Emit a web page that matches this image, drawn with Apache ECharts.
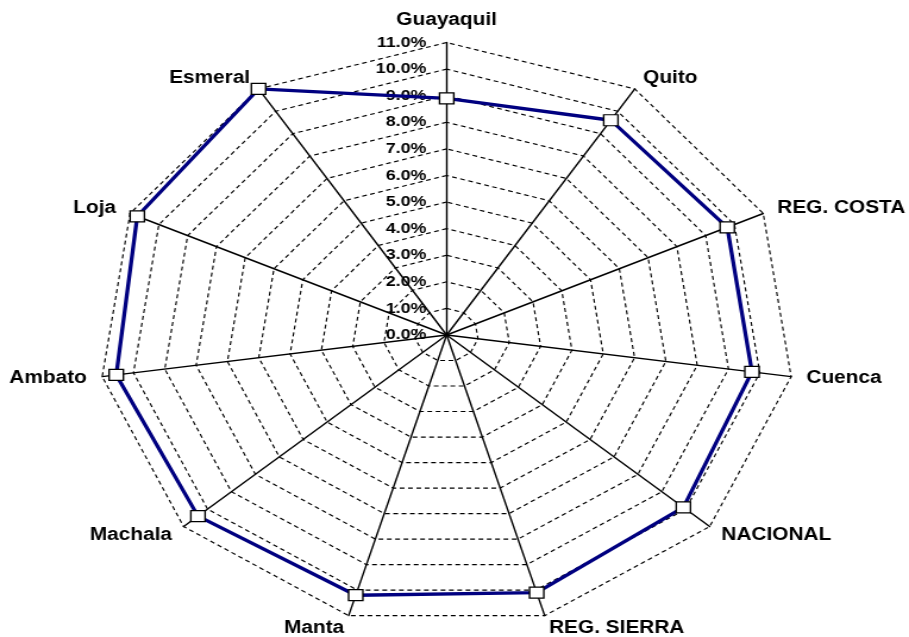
<!DOCTYPE html>
<html>
<head>
<meta charset="utf-8">
<script src="https://cdn.jsdelivr.net/npm/echarts@6/dist/echarts.min.js"></script>
<style>
  html, body { margin: 0; padding: 0; background: #fff; }
  #wrap { width: 909px; height: 637px; overflow: hidden; position: relative; background: #fff; }
  #main { width: 764px; height: 637px; transform: scaleX(1.1898); transform-origin: 0 0; }
</style>
</head>
<body>
<div id="wrap"><div id="main"></div></div>
<script>
// Categories in clockwise order starting from the top
const categories = ['Guayaquil', 'Quito', 'REG. COSTA', 'Cuenca', 'NACIONAL', 'REG. SIERRA', 'Manta', 'Machala', 'Ambato', 'Loja', 'Esmeral'];
// Values in percent
const values = [8.9, 9.6, 9.75, 9.75, 9.9, 10.1, 10.2, 10.4, 10.55, 10.75, 11.0];
// Radial tick labels
const tickLabels = ['0.0%', '1.0%', '2.0%', '3.0%', '4.0%', '5.0%', '6.0%', '7.0%', '8.0%', '9.0%', '10.0%', '11.0%'];

const axisMin = 0;
const axisMax = 11;

// ECharts places radar indicators counter-clockwise; reorder to draw clockwise
const order = [0];
for (let i = categories.length - 1; i >= 1; i--) order.push(i);

const FONT = '"Liberation Sans", Arial, Helvetica, sans-serif';

const indicator = order.map(function (idx, k) {
  const ind = { name: categories[idx], min: axisMin, max: axisMax };
  if (k === 0) ind.axisLabel = { show: true };
  return ind;
});

const chart = echarts.init(document.getElementById('main'), null, { renderer: 'canvas' });
chart.setOption({
  backgroundColor: '#fff',
  animation: false,
  radar: {
    center: [375.4, 335],
    radius: 292.5,
    startAngle: 90,
    shape: 'polygon',
    splitNumber: 11,
    axisNameGap: 13,
    indicator: indicator,
    axisName: {
      color: '#000',
      fontFamily: FONT,
      fontWeight: 'bold',
      fontSize: 17.5
    },
    axisLine: { show: true, lineStyle: { color: '#000', width: 1.4 } },
    axisTick: { show: false },
    axisLabel: {
      show: false,
      color: '#000',
      fontFamily: FONT,
      fontWeight: 'bold',
      fontSize: 15,
      margin: 17,
      formatter: function (v) {
        const i = Math.round(v - axisMin);
        return tickLabels[i] !== undefined ? tickLabels[i] : '';
      }
    },
    splitLine: { show: true, lineStyle: { color: '#000', width: 1.15, type: [4, 3] } },
    splitArea: { show: false }
  },
  series: [{
    type: 'radar',
    symbol: 'rect',
    symbolSize: [12, 11],
    lineStyle: { color: '#000080', width: 3.3 },
    itemStyle: { color: '#fff', borderColor: '#000', borderWidth: 1.3 },
    emphasis: { disabled: true },
    data: [{ value: order.map(function (idx) { return values[idx]; }) }]
  }]
});
</script>
</body>
</html>
